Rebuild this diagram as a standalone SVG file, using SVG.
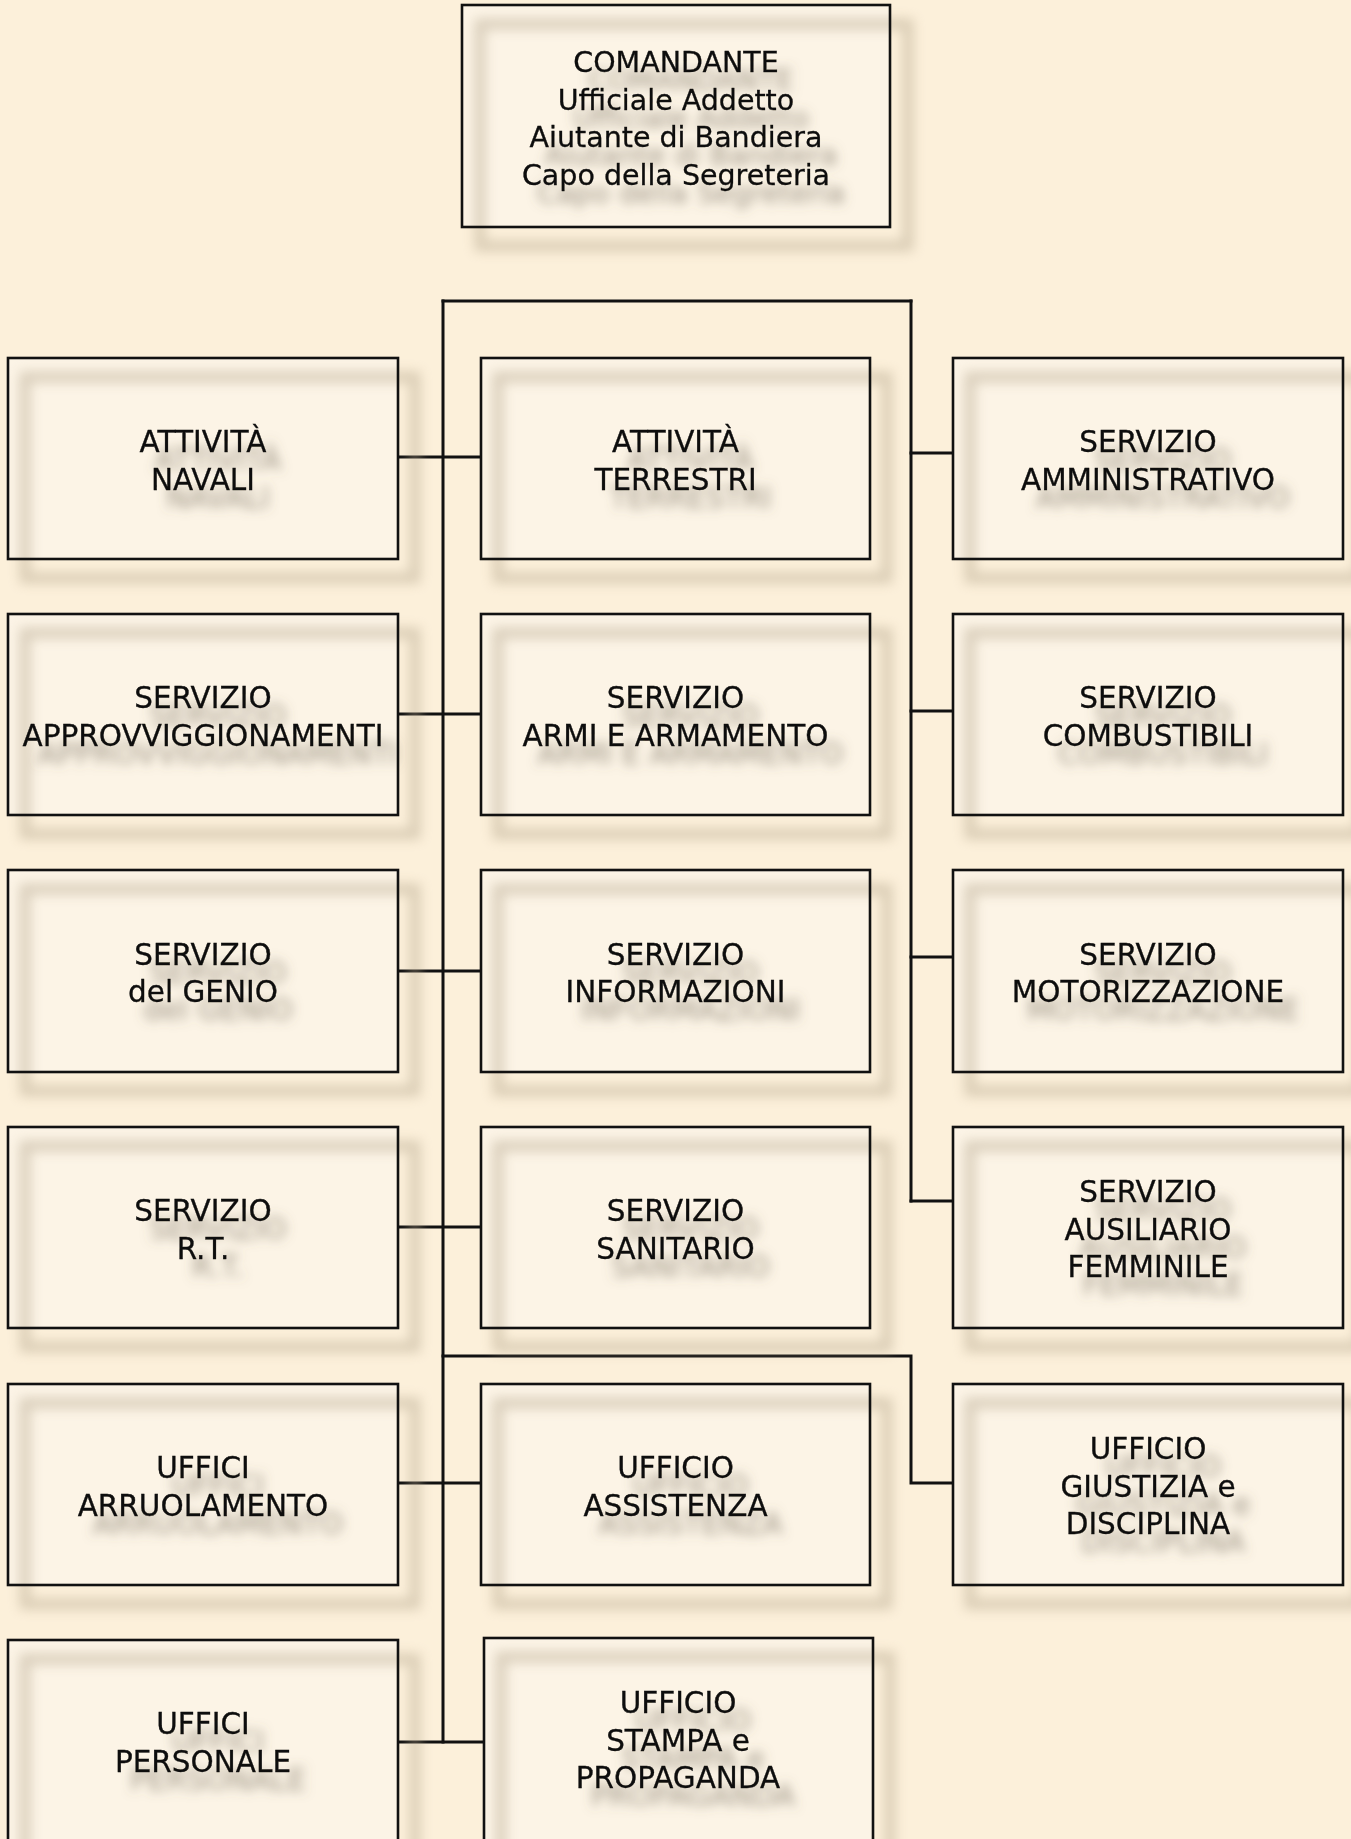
<svg xmlns="http://www.w3.org/2000/svg" width="1351" height="1839" viewBox="0 0 1351 1839">
<defs>
<filter id="ts" x="-20%" y="-40%" width="150%" height="200%">
<feGaussianBlur in="SourceAlpha" stdDeviation="5.5"/>
<feOffset dx="15" dy="18" result="b"/>
<feFlood flood-color="#6a6152" flood-opacity="0.6"/>
<feComposite in2="b" operator="in"/>
<feMerge><feMergeNode/><feMergeNode in="SourceGraphic"/></feMerge>
</filter>
<filter id="fb" x="-10%" y="-15%" width="120%" height="130%">
<feGaussianBlur stdDeviation="6"/>
</filter>
</defs>
<style>
.bg{fill:#fcf4e6;stroke:none}
.sh{fill:none;stroke:#b3a48b;stroke-width:11;opacity:0.45}
.bd{fill:none;stroke:#111;stroke-width:2.6}
.t{font-family:"DejaVu Sans","Verdana",sans-serif;font-size:29.5px;fill:#0a0a0a;text-anchor:middle;stroke:#0a0a0a;stroke-width:0.3}
.tt{font-size:28.5px}
.c{fill:none;stroke:#111;stroke-width:3;stroke-linecap:square}
</style>
<rect x="0" y="0" width="1351" height="1839" fill="#fcf0da"/>

<g id="connectors">
<path class="c" d="M443,301 H911"/>
<path class="c" d="M443,301 V1742"/>
<path class="c" d="M911,301 V1201"/>
<path class="c" d="M398,457 H481"/>
<path class="c" d="M398,714 H481"/>
<path class="c" d="M398,971 H481"/>
<path class="c" d="M398,1227 H481"/>
<path class="c" d="M398,1483 H481"/>
<path class="c" d="M398,1742 H484"/>
<path class="c" d="M911,453 H953"/>
<path class="c" d="M911,711 H953"/>
<path class="c" d="M911,957 H953"/>
<path class="c" d="M911,1201 H953"/>
<path class="c" d="M443,1356 H911 V1483 H953"/>
</g>

<g id="comandante">
<rect class="bg" x="462" y="5" width="428" height="222"/>
<rect class="sh" x="480" y="24" width="428" height="222" filter="url(#fb)"/>
<g filter="url(#ts)"><text class="t tt"><tspan x="676" y="72">COMANDANTE</tspan><tspan x="676" y="109.5">Ufficiale Addetto</tspan><tspan x="676" y="147">Aiutante di Bandiera</tspan><tspan x="676" y="184.5">Capo della Segreteria</tspan></text></g>
<rect class="bd" x="462" y="5" width="428" height="222"/>
</g>

<g id="attivita-navali">
<rect class="bg" x="8" y="358" width="390" height="201"/>
<rect class="sh" x="25" y="377" width="390" height="201" filter="url(#fb)"/>
<g filter="url(#ts)"><text class="t"><tspan x="203" y="452">ATTIVITÀ</tspan><tspan x="203" y="489.5">NAVALI</tspan></text></g>
<rect class="bd" x="8" y="358" width="390" height="201"/>
</g>

<g id="attivita-terrestri">
<rect class="bg" x="481" y="358" width="389" height="201"/>
<rect class="sh" x="498" y="377" width="389" height="201" filter="url(#fb)"/>
<g filter="url(#ts)"><text class="t"><tspan x="675.5" y="452">ATTIVITÀ</tspan><tspan x="675.5" y="489.5">TERRESTRI</tspan></text></g>
<rect class="bd" x="481" y="358" width="389" height="201"/>
</g>

<g id="servizio-amministrativo">
<rect class="bg" x="953" y="358" width="390" height="201"/>
<rect class="sh" x="970" y="377" width="390" height="201" filter="url(#fb)"/>
<g filter="url(#ts)"><text class="t"><tspan x="1148" y="452">SERVIZIO</tspan><tspan x="1148" y="489.5">AMMINISTRATIVO</tspan></text></g>
<rect class="bd" x="953" y="358" width="390" height="201"/>
</g>

<g id="servizio-approvvigionamenti">
<rect class="bg" x="8" y="614" width="390" height="201"/>
<rect class="sh" x="25" y="633" width="390" height="201" filter="url(#fb)"/>
<g filter="url(#ts)"><text class="t"><tspan x="203" y="708">SERVIZIO</tspan><tspan x="203" y="745.5">APPROVVIGGIONAMENTI</tspan></text></g>
<rect class="bd" x="8" y="614" width="390" height="201"/>
</g>

<g id="servizio-armi">
<rect class="bg" x="481" y="614" width="389" height="201"/>
<rect class="sh" x="498" y="633" width="389" height="201" filter="url(#fb)"/>
<g filter="url(#ts)"><text class="t"><tspan x="675.5" y="708">SERVIZIO</tspan><tspan x="675.5" y="745.5">ARMI E ARMAMENTO</tspan></text></g>
<rect class="bd" x="481" y="614" width="389" height="201"/>
</g>

<g id="servizio-combustibili">
<rect class="bg" x="953" y="614" width="390" height="201"/>
<rect class="sh" x="970" y="633" width="390" height="201" filter="url(#fb)"/>
<g filter="url(#ts)"><text class="t"><tspan x="1148" y="708">SERVIZIO</tspan><tspan x="1148" y="745.5">COMBUSTIBILI</tspan></text></g>
<rect class="bd" x="953" y="614" width="390" height="201"/>
</g>

<g id="servizio-genio">
<rect class="bg" x="8" y="870" width="390" height="202"/>
<rect class="sh" x="25" y="889" width="390" height="202" filter="url(#fb)"/>
<g filter="url(#ts)"><text class="t"><tspan x="203" y="964.5">SERVIZIO</tspan><tspan x="203" y="1002">del GENIO</tspan></text></g>
<rect class="bd" x="8" y="870" width="390" height="202"/>
</g>

<g id="servizio-informazioni">
<rect class="bg" x="481" y="870" width="389" height="202"/>
<rect class="sh" x="498" y="889" width="389" height="202" filter="url(#fb)"/>
<g filter="url(#ts)"><text class="t"><tspan x="675.5" y="964.5">SERVIZIO</tspan><tspan x="675.5" y="1002">INFORMAZIONI</tspan></text></g>
<rect class="bd" x="481" y="870" width="389" height="202"/>
</g>

<g id="servizio-motorizzazione">
<rect class="bg" x="953" y="870" width="390" height="202"/>
<rect class="sh" x="970" y="889" width="390" height="202" filter="url(#fb)"/>
<g filter="url(#ts)"><text class="t"><tspan x="1148" y="964.5">SERVIZIO</tspan><tspan x="1148" y="1002">MOTORIZZAZIONE</tspan></text></g>
<rect class="bd" x="953" y="870" width="390" height="202"/>
</g>

<g id="servizio-rt">
<rect class="bg" x="8" y="1127" width="390" height="201"/>
<rect class="sh" x="25" y="1146" width="390" height="201" filter="url(#fb)"/>
<g filter="url(#ts)"><text class="t"><tspan x="203" y="1221">SERVIZIO</tspan><tspan x="203" y="1258.5">R.T.</tspan></text></g>
<rect class="bd" x="8" y="1127" width="390" height="201"/>
</g>

<g id="servizio-sanitario">
<rect class="bg" x="481" y="1127" width="389" height="201"/>
<rect class="sh" x="498" y="1146" width="389" height="201" filter="url(#fb)"/>
<g filter="url(#ts)"><text class="t"><tspan x="675.5" y="1221">SERVIZIO</tspan><tspan x="675.5" y="1258.5">SANITARIO</tspan></text></g>
<rect class="bd" x="481" y="1127" width="389" height="201"/>
</g>

<g id="servizio-ausiliario">
<rect class="bg" x="953" y="1127" width="390" height="201"/>
<rect class="sh" x="970" y="1146" width="390" height="201" filter="url(#fb)"/>
<g filter="url(#ts)"><text class="t"><tspan x="1148" y="1202">SERVIZIO</tspan><tspan x="1148" y="1239.5">AUSILIARIO</tspan><tspan x="1148" y="1277">FEMMINILE</tspan></text></g>
<rect class="bd" x="953" y="1127" width="390" height="201"/>
</g>

<g id="uffici-arruolamento">
<rect class="bg" x="8" y="1384" width="390" height="201"/>
<rect class="sh" x="25" y="1403" width="390" height="201" filter="url(#fb)"/>
<g filter="url(#ts)"><text class="t"><tspan x="203" y="1478">UFFICI</tspan><tspan x="203" y="1515.5">ARRUOLAMENTO</tspan></text></g>
<rect class="bd" x="8" y="1384" width="390" height="201"/>
</g>

<g id="ufficio-assistenza">
<rect class="bg" x="481" y="1384" width="389" height="201"/>
<rect class="sh" x="498" y="1403" width="389" height="201" filter="url(#fb)"/>
<g filter="url(#ts)"><text class="t"><tspan x="675.5" y="1478">UFFICIO</tspan><tspan x="675.5" y="1515.5">ASSISTENZA</tspan></text></g>
<rect class="bd" x="481" y="1384" width="389" height="201"/>
</g>

<g id="ufficio-giustizia">
<rect class="bg" x="953" y="1384" width="390" height="201"/>
<rect class="sh" x="970" y="1403" width="390" height="201" filter="url(#fb)"/>
<g filter="url(#ts)"><text class="t"><tspan x="1148" y="1459">UFFICIO</tspan><tspan x="1148" y="1496.5">GIUSTIZIA e</tspan><tspan x="1148" y="1534">DISCIPLINA</tspan></text></g>
<rect class="bd" x="953" y="1384" width="390" height="201"/>
</g>

<g id="uffici-personale">
<rect class="bg" x="8" y="1640" width="390" height="210"/>
<rect class="sh" x="25" y="1659" width="390" height="210" filter="url(#fb)"/>
<g filter="url(#ts)"><text class="t"><tspan x="203" y="1734">UFFICI</tspan><tspan x="203" y="1771.5">PERSONALE</tspan></text></g>
<rect class="bd" x="8" y="1640" width="390" height="210"/>
</g>

<g id="ufficio-stampa">
<rect class="bg" x="484" y="1638" width="389" height="210"/>
<rect class="sh" x="501" y="1657" width="389" height="210" filter="url(#fb)"/>
<g filter="url(#ts)"><text class="t"><tspan x="678" y="1713">UFFICIO</tspan><tspan x="678" y="1750.5">STAMPA e</tspan><tspan x="678" y="1788">PROPAGANDA</tspan></text></g>
<rect class="bd" x="484" y="1638" width="389" height="210"/>
</g>
</svg>
